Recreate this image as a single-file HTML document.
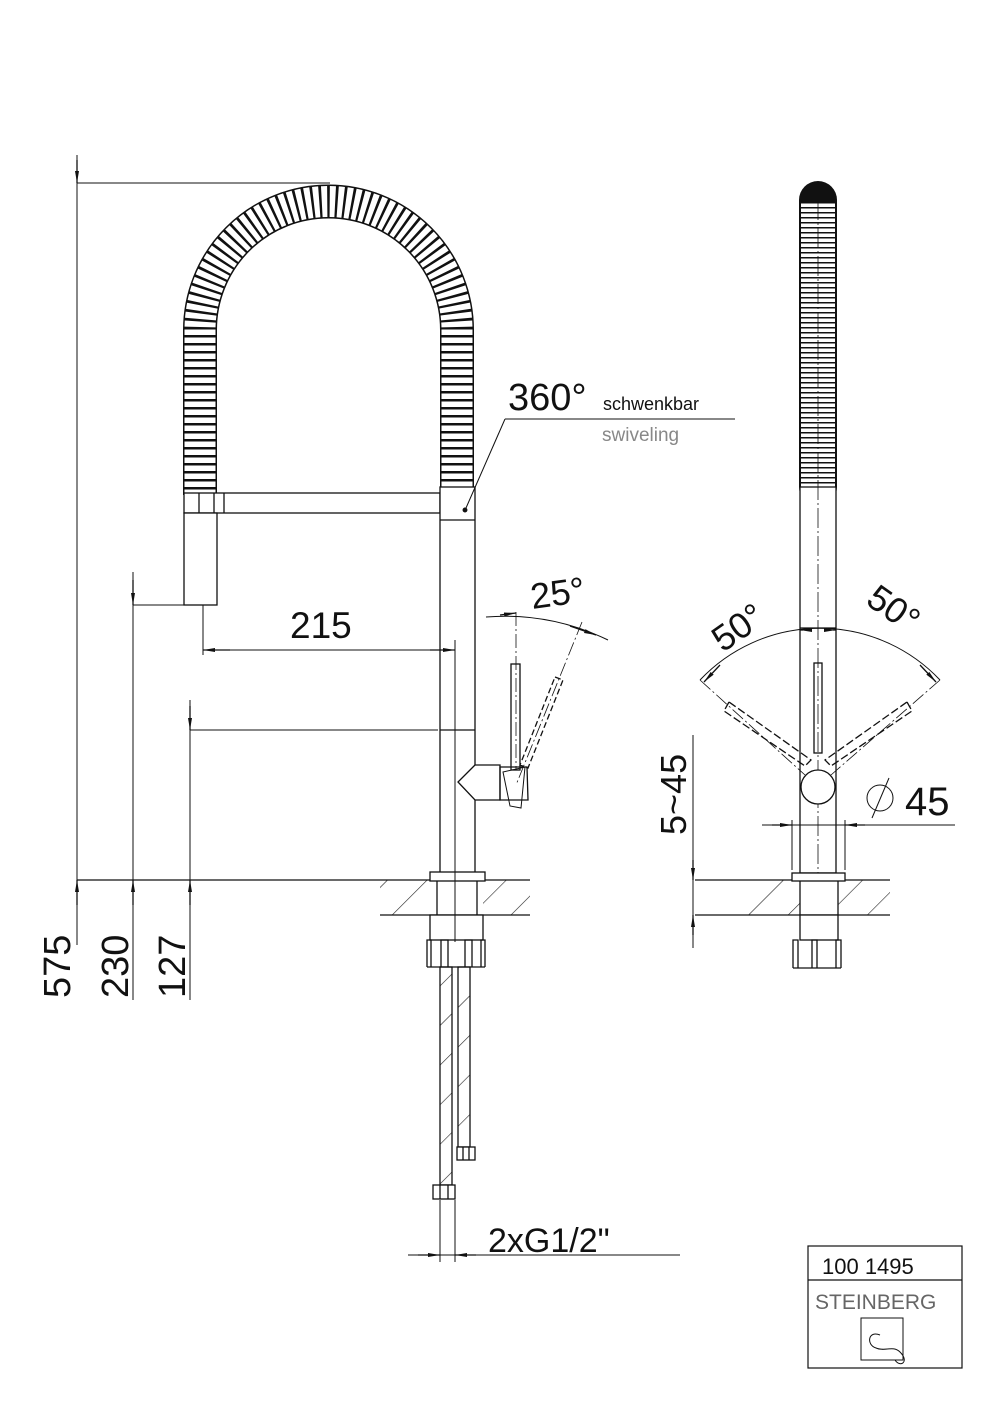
<!DOCTYPE html>
<html><head><meta charset="utf-8"><style>
html,body{margin:0;padding:0;background:#fff}
svg{display:block}
text{font-family:"Liberation Sans",sans-serif;fill:#111}
</style></head><body>
<svg width="1000" height="1414" viewBox="0 0 1000 1414" xmlns="http://www.w3.org/2000/svg">
<defs>
<marker id="a" markerWidth="12" markerHeight="6" refX="12" refY="3" orient="auto" markerUnits="userSpaceOnUse"><path d="M0,1 L12,3 L0,5z" fill="#111"/></marker>
<pattern id="h" width="28" height="28" patternUnits="userSpaceOnUse" patternTransform="rotate(45)"><line x1="0" y1="0" x2="0" y2="28" stroke="#222" stroke-width="1.2"/></pattern>
</defs>
<g fill="none" stroke="#111" stroke-width="1.3">
<!-- LEFT VIEW -->
<path d="M200,495 L200,330 A128.5,128.5 0 0 1 457,330 L457,487" stroke-width="34"/>
<path d="M200,495 L200,330 A128.5,128.5 0 0 1 457,330 L457,487" stroke="#fff" stroke-width="31" stroke-dasharray="5.5 2.5"/>
<rect x="184" y="493" width="256" height="20" fill="#fff"/>
<line x1="199" y1="493" x2="199" y2="513"/><line x1="214" y1="493" x2="214" y2="513"/><line x1="224" y1="493" x2="224" y2="513"/>
<rect x="184" y="513" width="33" height="92" fill="#fff"/>
<rect x="440" y="487" width="35" height="386" fill="#fff"/>
<line x1="440" y1="520" x2="475" y2="520"/>
<line x1="440" y1="730" x2="475" y2="730"/>
<circle cx="465" cy="510" r="1.8" fill="#111"/>
<!-- lever -->
<path d="M475,765 L500,765 L500,800 L475,800 L458,782 L475,765" fill="#fff"/>
<path d="M500,767 L527,767 L528,800 L500,800z"/>
<path d="M503,772 L525,767 L521,808 L510,806 z" stroke-width="1"/>
<rect x="511" y="664" width="9" height="106"/>
<path d="M555,677 L563,680 L528,768 L520,765 z" stroke-dasharray="6 3"/>
<line x1="516" y1="612" x2="516" y2="770" stroke-width="0.8" stroke-dasharray="14 3 2 3"/>
<line x1="582" y1="622" x2="516" y2="785" stroke-width="0.8" stroke-dasharray="14 3 2 3"/>
<path d="M486,617 Q550,612 608,640" stroke-width="1"/>
<line x1="500" y1="615" x2="516" y2="613" marker-end="url(#a)"/>
<line x1="570" y1="626" x2="596" y2="635" marker-end="url(#a)"/>
<!-- base -->
<rect x="380" y="880" width="150" height="35" fill="url(#h)" stroke="none"/>
<rect x="430" y="880" width="53" height="35" fill="#fff" stroke="none"/>
<line x1="77" y1="880" x2="530" y2="880"/>
<line x1="380" y1="915" x2="530" y2="915"/>
<rect x="430" y="872" width="55" height="9" fill="#fff"/>
<line x1="437" y1="881" x2="437" y2="915"/><line x1="477" y1="881" x2="477" y2="915"/>
<rect x="430" y="915" width="53" height="25" fill="#fff"/>
<path d="M427,967 L485,967 M427,967 L427,940 L431,940 L431,967 M441,967 L441,940 L448,940 L448,967 M465,967 L465,940 L472,940 L472,967 M481,967 L481,940 L485,940 L485,967"/>
<rect x="440" y="967" width="12" height="218" fill="url(#h)"/>
<rect x="458" y="967" width="12" height="180" fill="url(#h)"/>
<rect x="457" y="1147" width="18" height="13" fill="#fff"/>
<line x1="463" y1="1147" x2="463" y2="1160"/><line x1="469" y1="1147" x2="469" y2="1160"/>
<rect x="433" y="1185" width="22" height="14" fill="#fff"/>
<line x1="440" y1="1185" x2="440" y2="1199"/><line x1="448" y1="1185" x2="448" y2="1199"/>
<!-- dims left -->
<line x1="77" y1="155" x2="77" y2="945" stroke-width="1"/>
<line x1="77" y1="183" x2="330" y2="183" stroke-width="1"/>
<line x1="77" y1="160" x2="77" y2="183" marker-end="url(#a)"/>
<line x1="77" y1="905" x2="77" y2="880" marker-end="url(#a)"/>
<line x1="133" y1="572" x2="133" y2="1000" stroke-width="1"/>
<line x1="133" y1="605" x2="184" y2="605" stroke-width="1"/>
<line x1="133" y1="580" x2="133" y2="605" marker-end="url(#a)"/>
<line x1="133" y1="905" x2="133" y2="880" marker-end="url(#a)"/>
<line x1="190" y1="700" x2="190" y2="1000" stroke-width="1"/>
<line x1="190" y1="730" x2="438" y2="730" stroke-width="1"/>
<line x1="190" y1="706" x2="190" y2="730" marker-end="url(#a)"/>
<line x1="190" y1="905" x2="190" y2="880" marker-end="url(#a)"/>
<line x1="203" y1="605" x2="203" y2="655" stroke-width="1"/>
<line x1="455" y1="640" x2="455" y2="942" stroke-width="1"/>
<line x1="203" y1="650" x2="455" y2="650" stroke-width="1"/>
<line x1="230" y1="650" x2="203" y2="650" marker-end="url(#a)"/>
<line x1="430" y1="650" x2="455" y2="650" marker-end="url(#a)"/>
<line x1="440" y1="1200" x2="440" y2="1262" stroke-width="1"/>
<line x1="455" y1="1200" x2="455" y2="1262" stroke-width="1"/>
<line x1="408" y1="1255" x2="680" y2="1255" stroke-width="1"/>
<line x1="418" y1="1255" x2="440" y2="1255" marker-end="url(#a)"/>
<line x1="476" y1="1255" x2="455" y2="1255" marker-end="url(#a)"/>
<line x1="505" y1="419" x2="735" y2="419" stroke-width="1"/>
<line x1="505" y1="419" x2="466" y2="508" stroke-width="1"/>

<!-- RIGHT VIEW -->
<path d="M818,487 L818,200" stroke-width="38" stroke-linecap="round"/>
<path d="M818,487 L818,203" stroke="#fff" stroke-width="34" stroke-dasharray="3.5 1.5"/>
<rect x="800" y="487" width="36" height="386" fill="#fff"/>
<line x1="800" y1="628" x2="836" y2="628"/>
<line x1="818" y1="200" x2="818" y2="873" stroke-width="0.8" stroke-dasharray="20 3 2 3"/>
<rect x="814" y="663" width="8" height="90" fill="none"/>
<path d="M729,702 L724,711 L805,766 L811,760 z" stroke-dasharray="8 3"/>
<path d="M907,702 L912,711 L831,766 L825,760 z" stroke-dasharray="8 3"/>
<circle cx="818" cy="787" r="17" fill="#fff"/>
<path d="M700,680 A165,165 0 0 1 940,680" stroke-width="1"/>
<line x1="700" y1="680" x2="805" y2="775" stroke-width="0.8" stroke-dasharray="14 3 2 3"/>
<line x1="940" y1="680" x2="831" y2="775" stroke-width="0.8" stroke-dasharray="14 3 2 3"/>
<line x1="720" y1="665" x2="704" y2="682" marker-end="url(#a)"/>
<line x1="920" y1="665" x2="936" y2="682" marker-end="url(#a)"/>
<line x1="803" y1="630" x2="800" y2="630" marker-end="url(#a)"/>
<line x1="833" y1="630" x2="836" y2="630" marker-end="url(#a)"/>
<rect x="745" y="880" width="145" height="35" fill="url(#h)" stroke="none"/>
<rect x="800" y="880" width="38" height="35" fill="#fff" stroke="none"/>
<line x1="695" y1="880" x2="890" y2="880"/>
<line x1="695" y1="915" x2="890" y2="915"/>
<line x1="800" y1="881" x2="800" y2="915"/><line x1="838" y1="881" x2="838" y2="915"/>
<rect x="792" y="873" width="53" height="8" fill="#fff"/>
<rect x="800" y="915" width="38" height="25" fill="#fff"/>
<path d="M793,968 L841,968 M793,968 L793,940 L798,940 L798,968 M812,968 L812,940 L817,940 L817,968 M836,968 L836,940 L841,940 L841,968"/>
<line x1="792" y1="820" x2="792" y2="870" stroke-width="1"/>
<line x1="845" y1="820" x2="845" y2="870" stroke-width="1"/>
<line x1="762" y1="825" x2="955" y2="825" stroke-width="1"/>
<line x1="772" y1="825" x2="792" y2="825" marker-end="url(#a)"/>
<line x1="865" y1="825" x2="845" y2="825" marker-end="url(#a)"/>
<circle cx="880" cy="798" r="13" stroke-width="1"/>
<line x1="872" y1="818" x2="889" y2="778" stroke-width="1"/>
<line x1="693" y1="735" x2="693" y2="948" stroke-width="1"/>
<line x1="693" y1="860" x2="693" y2="880" marker-end="url(#a)"/>
<line x1="693" y1="935" x2="693" y2="915" marker-end="url(#a)"/>
<rect x="808" y="1246" width="154" height="122" stroke-width="1.2"/>
<line x1="808" y1="1280" x2="962" y2="1280" stroke-width="1.2"/>
<rect x="861" y="1318" width="42" height="42" stroke-width="1"/>
<path d="M880,1335 C868,1330 866,1345 876,1348 C885,1352 893,1345 900,1352 C910,1362 900,1368 895,1360" stroke-width="1"/>
</g>
<text x="508" y="410" font-size="38">360°</text>
<text x="603" y="410" font-size="18">schwenkbar</text>
<text x="602" y="441" font-size="19" style="fill:#888">swiveling</text>
<text x="290" y="638" font-size="37">215</text>
<text x="530" y="605" font-size="36" transform="rotate(-8 560 590)">25°</text>
<text x="706" y="640" font-size="36" transform="rotate(-35 735 620)">50°</text>
<text x="866" y="622" font-size="36" transform="rotate(35 895 610)">50°</text>
<text x="905" y="815" font-size="40">45</text>
<text x="488" y="1252" font-size="34">2xG1/2"</text>
<text font-size="38" transform="translate(70,998) rotate(-90)">575</text>
<text font-size="38" transform="translate(128,998) rotate(-90)">230</text>
<text font-size="38" transform="translate(185,998) rotate(-90)">127</text>
<text font-size="36" transform="translate(686,835) rotate(-90)">5~45</text>
<text x="822" y="1274" font-size="22">100 1495</text>
<text x="815" y="1309" font-size="21" style="fill:#666">STEINBERG</text>
</svg>
</body></html>
